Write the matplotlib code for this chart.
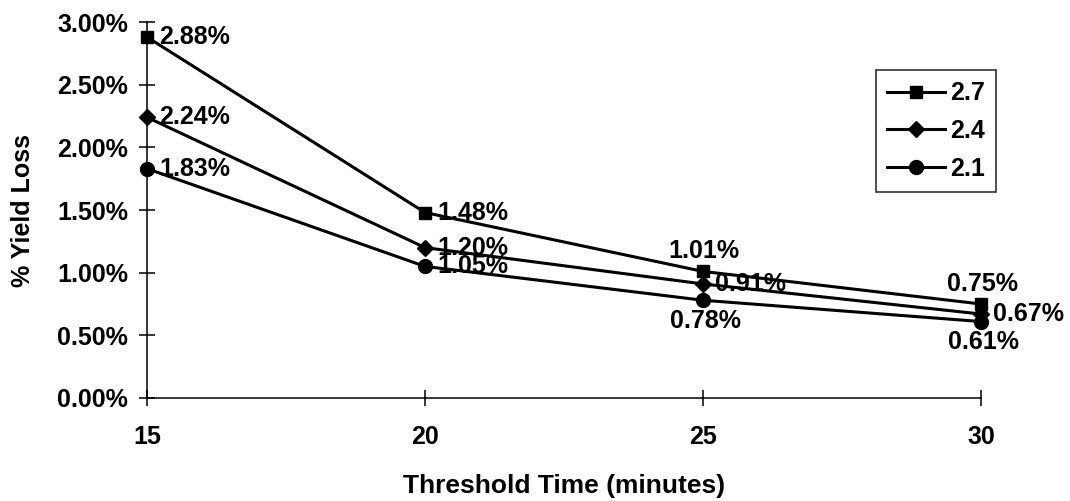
import matplotlib.pyplot as plt
from matplotlib.ticker import PercentFormatter

plt.rcParams["font.family"] = ["Liberation Sans", "DejaVu Sans"]
plt.rcParams["font.weight"] = "bold"

threshold = [15, 20, 25, 30]
series_names = ["2.7", "2.4", "2.1"]
loss_27 = [2.88, 1.48, 1.01, 0.75]
loss_24 = [2.24, 1.20, 0.91, 0.67]
loss_21 = [1.83, 1.05, 0.78, 0.61]

series = [loss_27, loss_24, loss_21]
markers = ["s", "D", "o"]
msizes = [9, 8, 10]
# label placement per point: (dx, dy) in points, ha, va
right = ((9, 0), "left", "center")
above = ((1, 6), "center", "bottom")
below = ((2, -6), "center", "top")
placements = [
    [right, right, above, above],
    [right, right, right, right],
    [right, right, below, below],
]

fig = plt.figure(figsize=(10.7, 5.01), dpi=100)
ax = fig.add_axes([0.1374, 0.2056, 0.7794, 0.7504])

for vals, name, mk, ms, place in zip(series, series_names, markers, msizes, placements):
    ys = [v / 100 for v in vals]
    ax.plot(threshold, ys, color="black", linewidth=2.2, marker=mk,
            markersize=ms, label=name, clip_on=False)
    for x, y, v, (off, ha, va) in zip(threshold, ys, vals, place):
        ax.annotate(f"{v:.2f}%", (x, y), xytext=off, textcoords="offset points",
                    ha=ha, va=va, fontsize=18, fontweight="bold")

ax.set_xlim(15, 30)
ax.set_ylim(0, 0.03)
ax.set_xticks(threshold)
ax.set_yticks([0, 0.005, 0.01, 0.015, 0.02, 0.025, 0.03])
ax.yaxis.set_major_formatter(PercentFormatter(1.0, decimals=2))
ax.tick_params(direction="inout", length=11, width=1.1, labelsize=18)
ax.tick_params(axis="x", pad=14)
ax.tick_params(axis="y", pad=8)
for lbl in ax.get_xticklabels() + ax.get_yticklabels():
    lbl.set_fontweight("bold")
ax.spines["top"].set_visible(False)
ax.spines["right"].set_visible(False)
ax.spines["left"].set_linewidth(1.1)
ax.spines["bottom"].set_linewidth(1.1)

ax.set_xlabel("Threshold Time (minutes)", fontsize=19, fontweight="bold", labelpad=18)
ax.set_ylabel("% Yield Loss", fontsize=18, fontweight="bold", labelpad=16)

leg = ax.legend(loc="upper right", bbox_to_anchor=(1.018, 0.872), borderaxespad=0,
                fontsize=18, frameon=True, fancybox=False, edgecolor="black",
                handlelength=2.3, handletextpad=0.2, borderpad=0.45,
                labelspacing=0.55)
leg.get_frame().set_linewidth(1.2)

fig.savefig("out.png", dpi=100)
